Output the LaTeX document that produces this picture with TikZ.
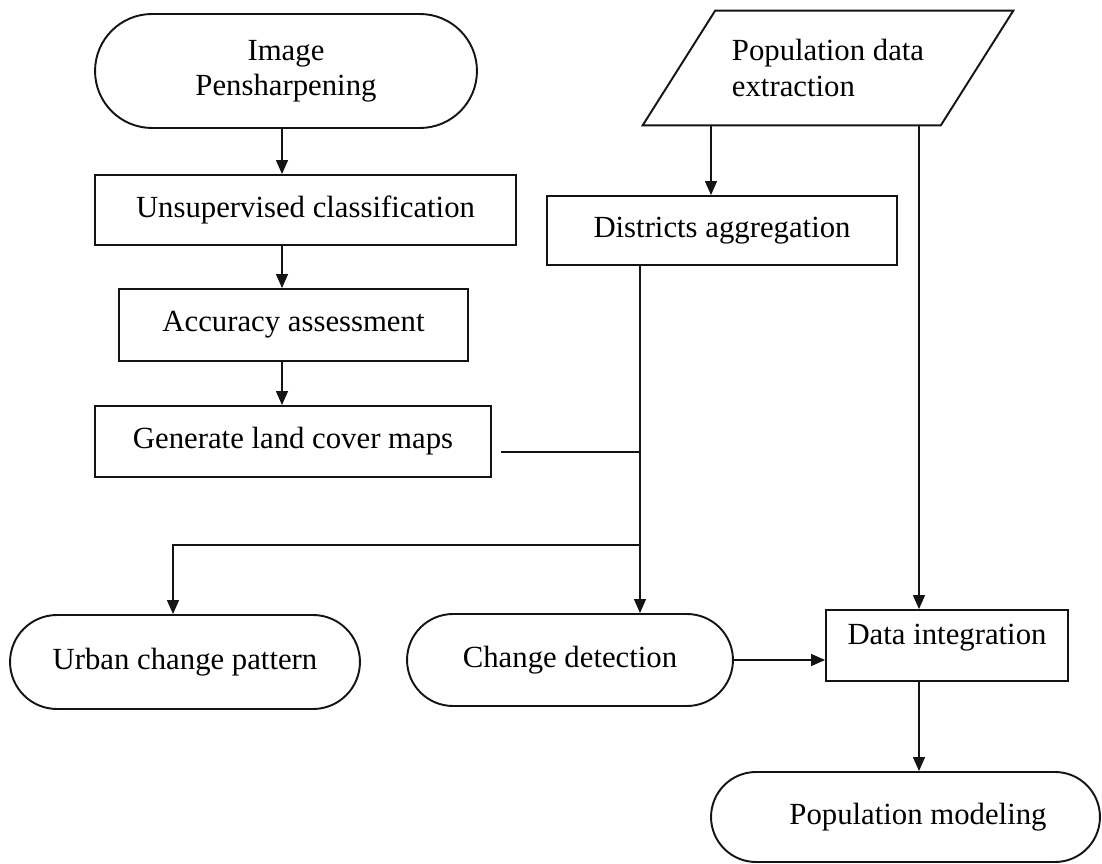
\documentclass[tikz,border=0pt]{standalone}
\usepackage{fontspec}
\setmainfont{Liberation Serif}
\usetikzlibrary{
  arrows.meta,
  shapes.misc
}
\definecolor{ink}{HTML}{141414}
\newcommand{\labelfont}{\fontsize{17.5}{20}\selectfont}
\tikzset{
  flow/.style={
    -{Triangle[length=0.28cm,width=0.24cm]},
    line width=0.8pt,
    draw=ink
  },
  link/.style={
    line width=0.8pt,
    draw=ink
  },
  outline/.style={
    draw=ink,
    line width=1.1pt,
    line join=miter
  },
  terminal/.style={
    rounded rectangle,
    outline,
    inner sep=0pt,
    font=\labelfont,
    align=center
  },
  process/.style={
    rectangle,
    outline,
    inner sep=0pt,
    font=\labelfont,
    align=center
  },
  inputbox/.style={
    rectangle,
    inner sep=0pt,
    font=\labelfont,
    align=left
  }
}

\begin{document}
\begin{tikzpicture}[x=0.02cm, y=-0.02cm]
  \useasboundingbox (0,0) rectangle (1102,864);

  % left column: image processing
  \node[terminal, minimum width=7.64cm, minimum height=2.28cm] (imgsharp)
    at (286,71) {Image\\Pensharpening};
  \node[process, minimum width=8.42cm, minimum height=1.40cm] (unsup)
    at (305.5,210) {Unsupervised classification};
  \node[process, minimum width=6.98cm, minimum height=1.44cm] (accur)
    at (293.5,325) {Accuracy assessment};
  \node[process, minimum width=7.92cm, minimum height=1.42cm] (genmap)
    at (293,441.5) {Generate land cover maps};

  % right column: population data
  \node[inputbox, minimum width=7.40cm, minimum height=2.28cm] (popext)
    at (828,68) {Population data\\extraction};
  \draw[outline] (popext.south west) -- ([xshift=1.45cm]popext.north west)
    -- (popext.north east) -- ([xshift=-1.45cm]popext.south east) -- cycle;
  \node[process, minimum width=7.00cm, minimum height=1.38cm] (distagg)
    at (722,230.5) {Districts aggregation};

  % results
  \node[terminal, minimum width=7.00cm, minimum height=1.88cm] (urban)
    at (185,662) {Urban change pattern};
  \node[terminal, minimum width=6.52cm, minimum height=1.84cm] (chgdet)
    at (570,660) {Change detection};
  \node[process, minimum width=4.84cm, minimum height=1.42cm,
    text depth=0.45cm] (dataint) at (947,645.5) {Data integration};
  \node[terminal, minimum width=7.78cm, minimum height=1.80cm] (popmod)
    at (905.5,817) {\hspace*{0.5cm}Population modeling};

  \coordinate (spine) at (282,0);
  \coordinate (popcol) at (711,0);
  \coordinate (intcol) at (919,0);
  \coordinate (aggcol) at (640,0);
  \coordinate (urbcol) at (173,0);
  \coordinate (merge) at (640,452);
  \coordinate (split) at (640,545);

  \draw[flow] (imgsharp.south -| spine) -- (unsup.north -| spine);
  \draw[flow] (unsup.south -| spine) -- (accur.north -| spine);
  \draw[flow] (accur.south -| spine) -- (genmap.north -| spine);
  \draw[flow] (popext.south -| popcol) -- (distagg.north -| popcol);
  \draw[flow] (distagg.south -| aggcol) -- (chgdet.north -| aggcol);
  \draw[link, shorten <=0.18cm] (genmap.east |- merge) -- (merge);
  \draw[flow] (split) -| (urban.north -| urbcol);
  \draw[flow] (popext.south -| intcol) -- (dataint.north -| intcol);
  \draw[flow] (chgdet.east) -- (chgdet.east -| dataint.west);
  \draw[flow] (dataint.south -| intcol) -- (popmod.north -| intcol);
\end{tikzpicture}
\end{document}
